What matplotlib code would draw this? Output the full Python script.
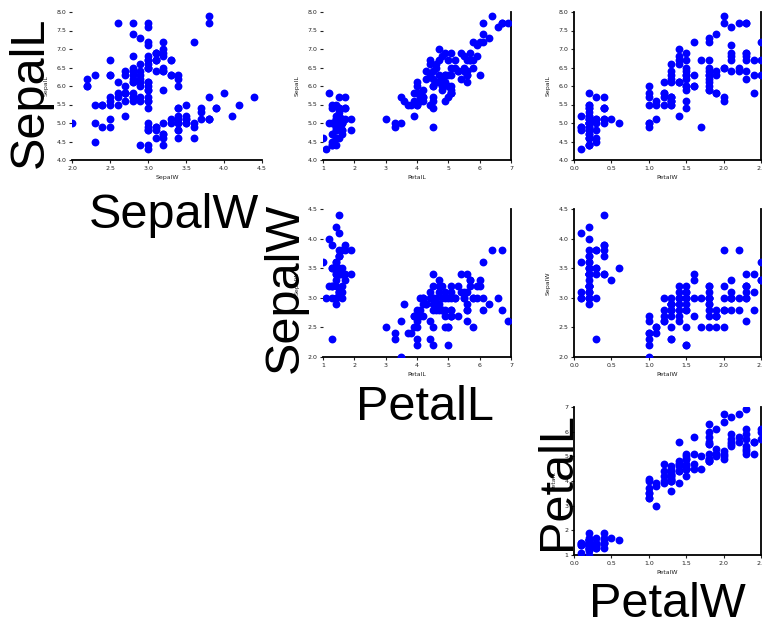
import matplotlib
matplotlib.use("Agg")
import matplotlib.pyplot as plt
import numpy as np

# Iris measurements
sepal_l = [5.1,4.9,4.7,4.6,5.0,5.4,4.6,5.0,4.4,4.9,5.4,4.8,4.8,4.3,5.8,5.7,5.4,5.1,5.7,5.1,
           5.4,5.1,4.6,5.1,4.8,5.0,5.0,5.2,5.2,4.7,4.8,5.4,5.2,5.5,4.9,5.0,5.5,4.9,4.4,5.1,
           5.0,4.5,4.4,5.0,5.1,4.8,5.1,4.6,5.3,5.0,
           7.0,6.4,6.9,5.5,6.5,5.7,6.3,4.9,6.6,5.2,5.0,5.9,6.0,6.1,5.6,6.7,5.6,5.8,6.2,5.6,
           5.9,6.1,6.3,6.1,6.4,6.6,6.8,6.7,6.0,5.7,5.5,5.5,5.8,6.0,5.4,6.0,6.7,6.3,5.6,5.5,
           5.5,6.1,5.8,5.0,5.6,5.7,5.7,6.2,5.1,5.7,
           6.3,5.8,7.1,6.3,6.5,7.6,4.9,7.3,6.7,7.2,6.5,6.4,6.8,5.7,5.8,6.4,6.5,7.7,7.7,6.0,
           6.9,5.6,7.7,6.3,6.7,7.2,6.2,6.1,6.4,7.2,7.4,7.9,6.4,6.3,6.1,7.7,6.3,6.4,6.0,6.9,
           6.7,6.9,5.8,6.8,6.7,6.7,6.3,6.5,6.2,5.9]
sepal_w = [3.5,3.0,3.2,3.1,3.6,3.9,3.4,3.4,2.9,3.1,3.7,3.4,3.0,3.0,4.0,4.4,3.9,3.5,3.8,3.8,
           3.4,3.7,3.6,3.3,3.4,3.0,3.4,3.5,3.4,3.2,3.1,3.4,4.1,4.2,3.1,3.2,3.5,3.6,3.0,3.4,
           3.5,2.3,3.2,3.5,3.8,3.0,3.8,3.2,3.7,3.3,
           3.2,3.2,3.1,2.3,2.8,2.8,3.3,2.4,2.9,2.7,2.0,3.0,2.2,2.9,2.9,3.1,3.0,2.7,2.2,2.5,
           3.2,2.8,2.5,2.8,2.9,3.0,2.8,3.0,2.9,2.6,2.4,2.4,2.7,2.7,3.0,3.4,3.1,2.3,3.0,2.5,
           2.6,3.0,2.6,2.3,2.7,3.0,2.9,2.9,2.5,2.8,
           3.3,2.7,3.0,2.9,3.0,3.0,2.5,2.9,2.5,3.6,3.2,2.7,3.0,2.5,2.8,3.2,3.0,3.8,2.6,2.2,
           3.2,2.8,2.8,2.7,3.3,3.2,2.8,3.0,2.8,3.0,2.8,3.8,2.8,2.8,2.6,3.0,3.4,3.1,3.0,3.1,
           3.1,3.1,2.7,3.2,3.3,3.0,2.5,3.0,3.4,3.0]
petal_l = [1.4,1.4,1.3,1.5,1.4,1.7,1.4,1.5,1.4,1.5,1.5,1.6,1.4,1.1,1.2,1.5,1.3,1.4,1.7,1.5,
           1.7,1.5,1.0,1.7,1.9,1.6,1.6,1.5,1.4,1.6,1.6,1.5,1.5,1.4,1.5,1.2,1.3,1.4,1.3,1.5,
           1.3,1.3,1.3,1.6,1.9,1.4,1.6,1.4,1.5,1.4,
           4.7,4.5,4.9,4.0,4.6,4.5,4.7,3.3,4.6,3.9,3.5,4.2,4.0,4.7,3.6,4.4,4.5,4.1,4.5,3.9,
           4.8,4.0,4.9,4.7,4.3,4.4,4.8,5.0,4.5,3.5,3.8,3.7,3.9,5.1,4.5,4.5,4.7,4.4,4.1,4.0,
           4.4,4.6,4.0,3.3,4.2,4.2,4.2,4.3,3.0,4.1,
           6.0,5.1,5.9,5.6,5.8,6.6,4.5,6.3,5.8,6.1,5.1,5.3,5.5,5.0,5.1,5.3,5.5,6.7,6.9,5.0,
           5.7,4.9,6.7,4.9,5.7,6.0,4.8,4.9,5.6,5.8,6.1,6.4,5.6,5.1,5.6,6.1,5.6,5.5,4.8,5.4,
           5.6,5.1,5.1,5.9,5.7,5.2,5.0,5.2,5.4,5.1]
petal_w = [0.2,0.2,0.2,0.2,0.2,0.4,0.3,0.2,0.2,0.1,0.2,0.2,0.1,0.1,0.2,0.4,0.4,0.3,0.3,0.3,
           0.2,0.4,0.2,0.5,0.2,0.2,0.4,0.2,0.2,0.2,0.2,0.4,0.1,0.2,0.2,0.2,0.2,0.1,0.2,0.2,
           0.3,0.3,0.2,0.6,0.4,0.3,0.2,0.2,0.2,0.2,
           1.4,1.5,1.5,1.3,1.5,1.3,1.6,1.0,1.3,1.4,1.0,1.5,1.0,1.4,1.3,1.4,1.5,1.0,1.5,1.1,
           1.8,1.3,1.5,1.2,1.3,1.4,1.4,1.7,1.5,1.0,1.1,1.0,1.2,1.6,1.5,1.6,1.5,1.3,1.3,1.3,
           1.2,1.4,1.2,1.0,1.3,1.2,1.3,1.3,1.1,1.3,
           2.5,1.9,2.1,1.8,2.2,2.1,1.7,1.8,1.8,2.5,2.0,1.9,2.1,2.0,2.4,2.3,1.8,2.2,2.3,1.5,
           2.3,2.0,2.0,1.8,2.1,1.8,1.8,1.8,2.1,1.6,1.9,2.0,2.2,1.5,1.4,2.3,2.4,1.8,1.8,2.1,
           2.4,2.3,1.9,2.3,2.5,2.3,1.9,2.0,2.3,1.8]

names = ["SepalL", "SepalW", "PetalL", "PetalW"]
data = {"SepalL": sepal_l, "SepalW": sepal_w, "PetalL": petal_l, "PetalW": petal_w}
limits = {"SepalL": (4.0, 8.0), "SepalW": (2.0, 4.5), "PetalL": (1, 7), "PetalW": (0.0, 2.5)}
ticks = {"SepalL": [4.0,4.5,5.0,5.5,6.0,6.5,7.0,7.5,8.0],
         "SepalW": [2.0,2.5,3.0,3.5,4.0,4.5],
         "PetalL": [1,2,3,4,5,6,7],
         "PetalW": [0.0,0.5,1.0,1.5,2.0,2.5]}
fmt = {"SepalL": "{:.1f}", "SepalW": "{:.1f}", "PetalL": "{:d}", "PetalW": "{:.1f}"}

W, H = 762, 622
fig = plt.figure(figsize=(W/100, H/100), dpi=100)

col_x = [(72, 262), (323, 511), (574, 761)]
row_y = [(12, 160), (209, 357), (407, 555)]

for r in range(3):
    yname = names[r]
    for c in range(r, 3):
        xname = names[c + 1]
        x0, x1 = col_x[c]
        y0, y1 = row_y[r]
        ax = fig.add_axes([x0/W, 1 - y1/H, (x1-x0)/W, (y1-y0)/H])
        ax.scatter(data[xname], data[yname], s=32, color="#0000ff", linewidths=0, zorder=3)
        ax.set_xlim(*limits[xname])
        ax.set_ylim(*limits[yname])
        ax.set_xticks(ticks[xname])
        ax.set_yticks(ticks[yname])
        ax.set_xticklabels([fmt[xname].format(v) for v in ticks[xname]])
        ax.set_yticklabels([fmt[yname].format(v) for v in ticks[yname]])
        ax.tick_params(labelsize=4.5, length=2, width=0.8, pad=2, colors="#222222")
        ax.spines["top"].set_visible(False)
        ax.spines["bottom"].set_linewidth(1.3)
        ax.spines["left"].set_linewidth(1.3)
        ax.spines["right"].set_linewidth(1.3)
        if c < 2:
            ax.spines["left"].set_visible(False)
        if c == 0:
            ax.spines["right"].set_visible(False)
        ax.set_xlabel(xname, fontsize=4.5, labelpad=3, color="#222222")
        ax.set_ylabel(yname, fontsize=4.5, labelpad=6, color="#222222")

big = dict(fontsize=35, family="Liberation Sans", color="black")
# diagonal labels
fig.text(30/W, 1 - 92/H, "SepalL", rotation=90, ha="center", va="center", **big)
fig.text(174/W, 1 - 228/H, "SepalW", ha="center", va="baseline", **big)
fig.text(285/W, 1 - 288/H, "SepalW", rotation=90, ha="center", va="center", **big)
fig.text(425/W, 1 - 420/H, "PetalL", ha="center", va="baseline", **big)
fig.text(557/W, 1 - 481/H, "PetalL", rotation=90, ha="center", va="center", **big)
fig.text(667/W, 1 - 617/H, "PetalW", ha="center", va="baseline", **big)

fig.savefig("out.png", dpi=100)
